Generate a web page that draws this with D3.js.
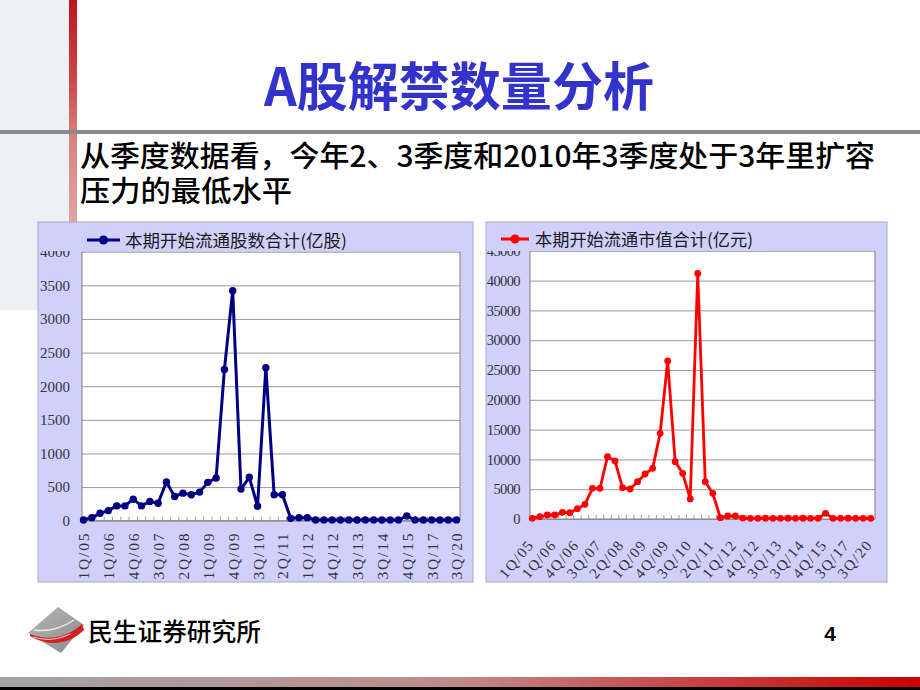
<!DOCTYPE html>
<html><head><meta charset="utf-8">
<script src="https://cdn.jsdelivr.net/npm/d3@7"></script>
<style>
html,body{margin:0;padding:0;background:#fff;}
svg{display:block;}
</style></head>
<body>
<script>
// ---------------- DATA ----------------
const categories = ["1Q/05","3Q/05","4Q/05","1Q/06","2Q/06","3Q/06","4Q/06","1Q/07","2Q/07","3Q/07",
  "4Q/07","1Q/08","2Q/08","3Q/08","4Q/08","1Q/09","2Q/09","3Q/09","4Q/09","1Q/10",
  "2Q/10","3Q/10","4Q/10","1Q/11","2Q/11","3Q/11","4Q/11","1Q/12","2Q/12","3Q/12",
  "4Q/12","1Q/13","2Q/13","3Q/13","4Q/13","2Q/14","3Q/14","4Q/14","2Q/15","4Q/15",
  "2Q/16","4Q/16","3Q/17","4Q/18","1Q/19","3Q/20"];
const shownLabels = ["1Q/05","1Q/06","4Q/06","3Q/07","2Q/08","1Q/09","4Q/09","3Q/10","2Q/11",
  "1Q/12","4Q/12","3Q/13","3Q/14","4Q/15","3Q/17","3Q/20"];
// 本期开始流通股数合计(亿股)
const sharesValues = [10,45,110,150,220,220,320,220,285,260,
  575,360,410,385,425,570,635,2250,3420,470,
  645,215,2275,385,385,35,45,45,10,12,
  12,10,12,10,12,12,10,12,12,70,
  12,10,12,10,12,12];
// 本期开始流通市值合计(亿元)
const marketValues = [120,400,670,670,1120,1060,1730,2460,5150,5150,
  10460,9730,5260,5030,6260,7550,8500,14370,26510,9620,
  7660,3360,41200,6260,4300,220,500,500,150,120,
  120,130,120,120,130,120,130,120,120,950,
  120,120,130,120,120,120];
const sharesTicks = [0,500,1000,1500,2000,2500,3000,3500,4000];
const marketTicks = [0,5000,10000,15000,20000,25000,30000,35000,40000,45000];
const sharesLegend = "本期开始流通股数合计(亿股)";
const marketLegend = "本期开始流通市值合计(亿元)";
const titleText = "A股解禁数量分析";
const subLine1 = "从季度数据看，今年2、3季度和2010年3季度处于3年里扩容";
const subLine2 = "压力的最低水平";
const footerText = "民生证券研究所";
const pageNo = "4";

// ---------------- DRAW ----------------
const W = 920, H = 690;
const svg = d3.select("body").append("svg").attr("width", W).attr("height", H);
const defs = svg.append("defs");

const gRed = defs.append("linearGradient").attr("id","redbar").attr("x1",0).attr("y1",0).attr("x2",0).attr("y2",1);
gRed.append("stop").attr("offset","0%").attr("stop-color","#c0141a");
gRed.append("stop").attr("offset","35%").attr("stop-color","#cc4a4a");
gRed.append("stop").attr("offset","60%").attr("stop-color","#d88484");
gRed.append("stop").attr("offset","100%").attr("stop-color","#e2a8a8");

const gBottom = defs.append("linearGradient").attr("id","bottombar").attr("x1",0).attr("y1",0).attr("x2",1).attr("y2",0);
gBottom.append("stop").attr("offset","0%").attr("stop-color","#a4a4a4");
gBottom.append("stop").attr("offset","50%").attr("stop-color","#c08a8a");
gBottom.append("stop").attr("offset","100%").attr("stop-color","#cc0000");

const gLogo = defs.append("linearGradient").attr("id","logogray").attr("x1",0).attr("y1",0).attr("x2",1).attr("y2",1);
gLogo.append("stop").attr("offset","0%").attr("stop-color","#b8b8b8");
gLogo.append("stop").attr("offset","100%").attr("stop-color","#8a8a8a");

// left pale strip
svg.append("rect").attr("x",0).attr("y",0).attr("width",69).attr("height",310).attr("fill","#eef1f3");
// red vertical bar
svg.append("rect").attr("x",69).attr("y",0).attr("width",8).attr("height",235).attr("fill","url(#redbar)");
// horizontal gray rule
svg.append("rect").attr("x",0).attr("y",130).attr("width",W).attr("height",4).attr("fill","#8a8a8a");

// title
svg.append("text").attr("x",264).attr("y",106)
  .attr("font-family","'Noto Sans CJK SC', sans-serif").attr("font-weight",700)
  .attr("font-size",52).attr("fill","#3333cc")
  .attr("textLength",390).attr("lengthAdjust","spacingAndGlyphs").text(titleText);

// subtitle (two lines in one text block)
const sub = svg.append("text")
  .attr("font-family","'Noto Sans CJK SC', sans-serif").attr("font-weight",500)
  .attr("font-size",29).attr("fill","#000");
sub.append("tspan").attr("x",80).attr("y",167)
  .attr("textLength",795).attr("lengthAdjust","spacingAndGlyphs").text(subLine1);
sub.append("tspan").attr("x",80).attr("y",202)
  .attr("textLength",212).attr("lengthAdjust","spacingAndGlyphs").text(subLine2);

function drawChart(cfg) {
  const g = svg.append("g");
  // panel
  g.append("rect").attr("x",cfg.panel.x).attr("y",cfg.panel.y).attr("width",cfg.panel.w).attr("height",cfg.panel.h)
    .attr("fill","#d0d0fa").attr("stroke","#a8a8bc").attr("stroke-width",1);
  // plot background
  g.append("rect").attr("x",cfg.plot.x0).attr("y",cfg.plot.y0)
    .attr("width",cfg.plot.x1-cfg.plot.x0).attr("height",cfg.plot.y1-cfg.plot.y0).attr("fill","#fff");

  const x = d3.scalePoint().domain(categories).range(cfg.xRange);
  const y = d3.scaleLinear().domain([0, cfg.yMax]).range([cfg.plot.y1, cfg.plot.y0]);

  // gridlines + y labels
  const yAxis = g.append("g").attr("transform",`translate(${cfg.plot.x0},0)`)
    .call(d3.axisLeft(y).tickValues(cfg.ticks).tickSize(-(cfg.plot.x1-cfg.plot.x0)).tickPadding(cfg.yPad).tickFormat(d3.format("d")));
  yAxis.select(".domain").remove();
  yAxis.selectAll(".tick line").attr("stroke","#9a9a9a").attr("stroke-width",1);
  yAxis.selectAll(".tick text").attr("font-family","'Liberation Serif', serif")
    .attr("font-size",cfg.yFont).attr("letter-spacing",cfg.yLS).attr("fill","#333344");

  // plot frame (left / right / bottom)
  g.append("line").attr("x1",cfg.plot.x0).attr("x2",cfg.plot.x0).attr("y1",cfg.plot.y0).attr("y2",cfg.plot.y1).attr("stroke","#808080");
  g.append("line").attr("x1",cfg.plot.x1).attr("x2",cfg.plot.x1).attr("y1",cfg.plot.y0).attr("y2",cfg.plot.y1).attr("stroke","#808080");
  g.append("line").attr("x1",cfg.plot.x0).attr("x2",cfg.plot.x1).attr("y1",cfg.plot.y1).attr("y2",cfg.plot.y1).attr("stroke","#808080");

  // small inner tick marks between categories
  const mids = d3.range(categories.length-1).map(i => (x(categories[i]) + x(categories[i+1]))/2);
  g.append("g").selectAll("line").data(mids).join("line")
    .attr("x1",d=>d).attr("x2",d=>d).attr("y1",cfg.plot.y1).attr("y2",cfg.plot.y1-4)
    .attr("stroke","#a0a0a0").attr("stroke-width",1);

  // x axis labels
  const xAxis = g.append("g").attr("transform",`translate(0,${cfg.plot.y1})`)
    .call(d3.axisBottom(x).tickValues(shownLabels).tickSize(0).tickPadding(0));
  xAxis.select(".domain").remove();
  xAxis.selectAll(".tick text")
    .attr("font-family","'Liberation Serif', serif").attr("font-size",cfg.xFont)
    .attr("letter-spacing",cfg.xLS).attr("fill","#333344")
    .attr("text-anchor","end").attr("y",0).attr("dy",cfg.xDy)
    .attr("transform",cfg.xTransform);

  // line + markers
  const line = d3.line().x((d,i)=>x(categories[i])).y(d=>y(d));
  g.append("path").datum(cfg.values).attr("d",line).attr("fill","none")
    .attr("stroke",cfg.color).attr("stroke-width",cfg.lw).attr("stroke-linejoin","round");
  g.append("g").selectAll("circle").data(cfg.values).join("circle")
    .attr("cx",(d,i)=>x(categories[i])).attr("cy",d=>y(d)).attr("r",cfg.r).attr("fill",cfg.color);

  // legend box (overlaps top of plot / top tick label)
  g.append("rect").attr("x",cfg.legend.x).attr("y",cfg.legend.y).attr("width",cfg.legend.w).attr("height",cfg.legend.h)
    .attr("fill","#d0d0fa");
  g.append("line").attr("x1",cfg.legend.lx0).attr("x2",cfg.legend.lx1).attr("y1",cfg.legend.ly).attr("y2",cfg.legend.ly)
    .attr("stroke",cfg.color).attr("stroke-width",3);
  g.append("circle").attr("cx",(cfg.legend.lx0+cfg.legend.lx1)/2).attr("cy",cfg.legend.ly).attr("r",4.5).attr("fill",cfg.color);
  g.append("text").attr("x",cfg.legend.tx).attr("y",cfg.legend.ty)
    .attr("font-family","'Noto Sans CJK SC', sans-serif").attr("font-size",17).attr("fill","#1a1a1a")
    .attr("textLength",cfg.legend.tl).attr("lengthAdjust","spacingAndGlyphs").text(cfg.legendText);
}

drawChart({
  panel:{x:38,y:222,w:435,h:360},
  plot:{x0:82,x1:460,y0:251.7,y1:520.7},
  xRange:[83.5,456.5], yMax:4000, ticks:sharesTicks, yPad:12, yFont:15, yLS:0,
  xFont:15.5, xLS:1.8, xDy:"0.35em", xTransform:"translate(0,11) rotate(-90)",
  values:sharesValues, color:"#000080", lw:3, r:3.7,
  legend:{x:39,y:223,w:357,h:28,lx0:87,lx1:120,ly:240,tx:125,ty:247,tl:222},
  legendText:sharesLegend
});

drawChart({
  panel:{x:486,y:222,w:401,h:360},
  plot:{x0:530,x1:875,y0:250.8,y1:519},
  xRange:[532.3,870.7], yMax:45000, ticks:marketTicks, yPad:10, yFont:14.5, yLS:-0.6,
  xFont:15, xLS:1.5, xDy:"0", xTransform:"translate(2,26) rotate(-50)",
  values:marketValues, color:"#ff0000", lw:2.8, r:3.4,
  legend:{x:487,y:223,w:280,h:28,lx0:501,lx1:529,ly:239,tx:535,ty:246,tl:218},
  legendText:marketLegend
});

// footer logo
const logo = svg.append("g");
logo.append("path").attr("d","M58,607 L84,625 L61,653 L28,633 Z").attr("fill","url(#logogray)");
logo.append("path").attr("d","M30,634 C45,640 65,640 82,624 L84,630 C68,646 46,646 30,636 Z").attr("fill","#d42020");
logo.append("path").attr("d","M34,630 C48,632 62,628 74,620").attr("fill","none").attr("stroke","#ffffff").attr("stroke-width",1.5).attr("opacity",0.8);
logo.append("path").attr("d","M33,637 C46,641 58,640 70,634").attr("fill","none").attr("stroke","#ffffff").attr("stroke-width",1.2).attr("opacity",0.7);

svg.append("text").attr("x",88).attr("y",641)
  .attr("font-family","'Noto Sans CJK SC', sans-serif").attr("font-weight",500)
  .attr("font-size",25).attr("fill","#000")
  .attr("textLength",173).attr("lengthAdjust","spacingAndGlyphs").text(footerText);
svg.append("text").attr("x",830).attr("y",641).attr("text-anchor","middle")
  .attr("font-family","'Liberation Sans', Arial, sans-serif").attr("font-weight",700)
  .attr("font-size",21).attr("fill","#000").text(pageNo);

// bottom bars
svg.append("rect").attr("x",0).attr("y",677).attr("width",W).attr("height",10).attr("fill","url(#bottombar)");
svg.append("rect").attr("x",0).attr("y",687).attr("width",W).attr("height",3).attr("fill","#000");
</script>
</body></html>
